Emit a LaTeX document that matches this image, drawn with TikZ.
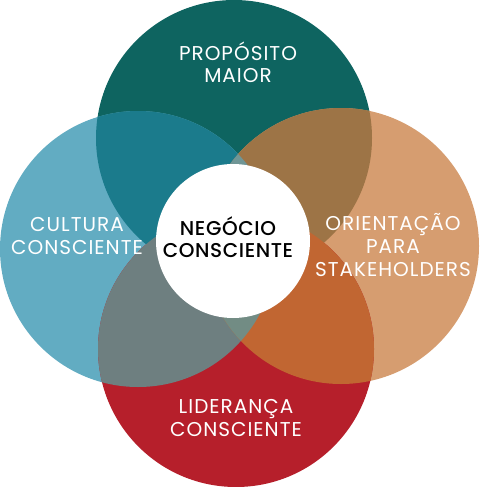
\documentclass[tikz,border=0pt]{standalone}
\usepackage{fontspec}
\setmainfont{Poppins}[LetterSpace=5]
\newfontfamily\medfont{Poppins Medium}[LetterSpace=3]
\definecolor{propcol}{RGB}{14,100,96}
\definecolor{cultcol}{RGB}{98,172,194}
\definecolor{oricol}{RGB}{214,157,112}
\definecolor{lidcol}{RGB}{182,31,43}
\definecolor{pccol}{RGB}{27,123,140}
\definecolor{pocol}{RGB}{157,116,70}
\definecolor{lccol}{RGB}{110,127,128}
\definecolor{locol}{RGB}{193,102,50}
\definecolor{pcocol}{RGB}{112,150,150}
\definecolor{lcocol}{RGB}{114,140,132}
\tikzset{
 circtext/.style={text=white, align=center, anchor=base, font=\fontsize{20}{22.7}\selectfont},
 centertext/.style={text=black, align=center, anchor=base, font=\medfont\fontsize{20}{22.7}\selectfont}
}
\begin{document}
\begin{tikzpicture}[x=1pt,y=-1pt]
 \useasboundingbox (0,0) rectangle (481,487);

 %centers of circles
 \coordinate (P) at (234,138); %proposito maior
 \coordinate (C) at (138,249); %cultura consciente
 \coordinate (O) at (341,246); %orientacao para stakeholders
 \coordinate (L) at (236,349); %lideranca consciente
 \coordinate (N) at (233,241); %negocio consciente

 %draw the four circles
 \fill [propcol] (P) circle (138pt);
 \fill [cultcol] (C) circle (138pt);
 \fill [oricol] (O) circle (138pt);
 \fill [lidcol] (L) circle (138pt);

 %overlaps of two circles
 \begin{scope}
  \clip (P) circle (138pt);
  \fill [pccol] (C) circle (138pt);
  \fill [pocol] (O) circle (138pt);
 \end{scope}
 \begin{scope}
  \clip (L) circle (138pt);
  \fill [lccol] (C) circle (138pt);
  \fill [locol] (O) circle (138pt);
 \end{scope}

 %overlaps of three circles
 \begin{scope}
  \clip (C) circle (138pt);
  \clip (O) circle (138pt);
  \fill [pcocol] (P) circle (138pt);
  \fill [lcocol] (L) circle (138pt);
 \end{scope}

 %white center
 \fill [white] (N) circle (77pt);

 %labels (base is the last line)
 \node [circtext] (prop) at (238,82.7) {PROPÓSITO\\MAIOR};
 \node [circtext] (cult) at (77,254) {CULTURA\\CONSCIENTE};
 \node [circtext] (ori) at (393,276) {ORIENTAÇÃO\\PARA\\STAKEHOLDERS};
 \node [circtext] (lid) at (236,436) {LIDERANÇA\\CONSCIENTE};
 \node [centertext] (neg) at (228,257.7) {NEGÓCIO\\CONSCIENTE};
\end{tikzpicture}
\end{document}
